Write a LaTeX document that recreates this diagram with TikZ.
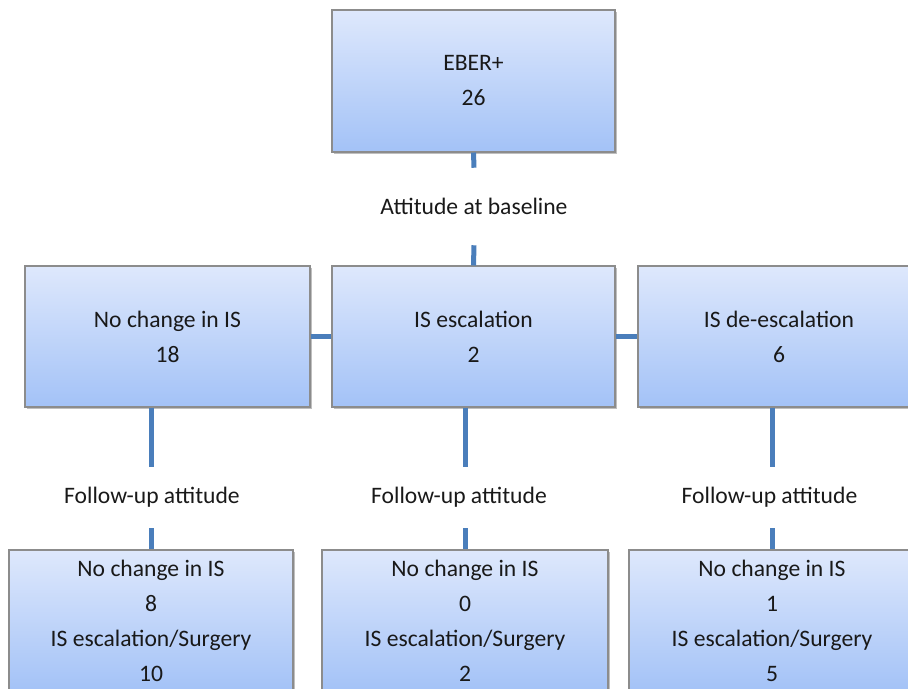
\documentclass[tikz,border=0pt]{standalone}
\usepackage{fontspec}
\setmainfont{Carlito}
\usetikzlibrary{shadows}
\definecolor{boxtop}{RGB}{222,232,252}
\definecolor{boxbot}{RGB}{163,194,247}
\definecolor{boxline}{RGB}{140,140,140}
\definecolor{conn}{RGB}{74,126,187}
\definecolor{txt}{RGB}{25,25,25}
\tikzset{
  box/.style={draw=boxline, line width=0.8pt, rectangle, top color=boxtop, bottom color=boxbot,
    align=center, text=txt, font=\fontsize{17.7}{26.25}\selectfont, inner sep=0pt,
    drop shadow={shadow xshift=1.5pt, shadow yshift=-1.5pt, fill=black, opacity=0.25}},
  lab/.style={align=center, text=txt, font=\fontsize{17.7}{26.25}\selectfont, inner sep=0pt},
  conn/.style={draw=conn, line width=3.75pt}
}
\begin{document}
\begin{tikzpicture}[x=0.75pt, y=-0.75pt]
\useasboundingbox (0,0) rectangle (908,689);
% top
\node[box, minimum width=283*0.75pt, minimum height=142*0.75pt] (top) at (473.5,81) {EBER+\\26};
\node[lab, minimum height=77*0.75pt] (base) at (474,206.5) {Attitude at baseline};
% middle row
\node[box, minimum width=285*0.75pt, minimum height=141*0.75pt] (m1) at (167.5,336.5) {No change in IS\\18};
\node[box, minimum width=283*0.75pt, minimum height=141*0.75pt] (m2) at (473.5,336.5) {IS escalation\\2};
\node[box, minimum width=282*0.75pt, minimum height=141*0.75pt] (m3) at (779,336.5) {IS de-escalation\\6};
% bottom row
\node[box, minimum width=284*0.75pt, minimum height=142*0.75pt] (b1) at (151,621) {No change in IS\\8\\IS escalation/Surgery\\10};
\node[box, minimum width=286*0.75pt, minimum height=142*0.75pt] (b2) at (465,621) {No change in IS\\0\\IS escalation/Surgery\\2};
\node[box, minimum width=286*0.75pt, minimum height=142*0.75pt] (b3) at (772,621) {No change in IS\\1\\IS escalation/Surgery\\5};
% follow-up labels
\node[lab, minimum height=61*0.75pt] (f1) at (152,497.5) {Follow-up attitude};
\node[lab, minimum height=61*0.75pt] (f2) at (459,497.5) {Follow-up attitude};
\node[lab, minimum height=61*0.75pt] (f3) at (769.5,497.5) {Follow-up attitude};
% connectors
\draw[conn] (top.south) -- (base.north);
\draw[conn] (base.south) -- (m2.north);
\draw[conn] (m1.east) -- (m2.west);
\draw[conn] (m2.east) -- (m3.west);
\foreach \m/\f/\b in {m1/f1/b1, m2/f2/b2, m3/f3/b3}{
  \draw[conn] (\m.south -| \b.north) -- (\f.north -| \b.north);
  \draw[conn] (\f.south -| \b.north) -- (\b.north);
}
\end{tikzpicture}
\end{document}
